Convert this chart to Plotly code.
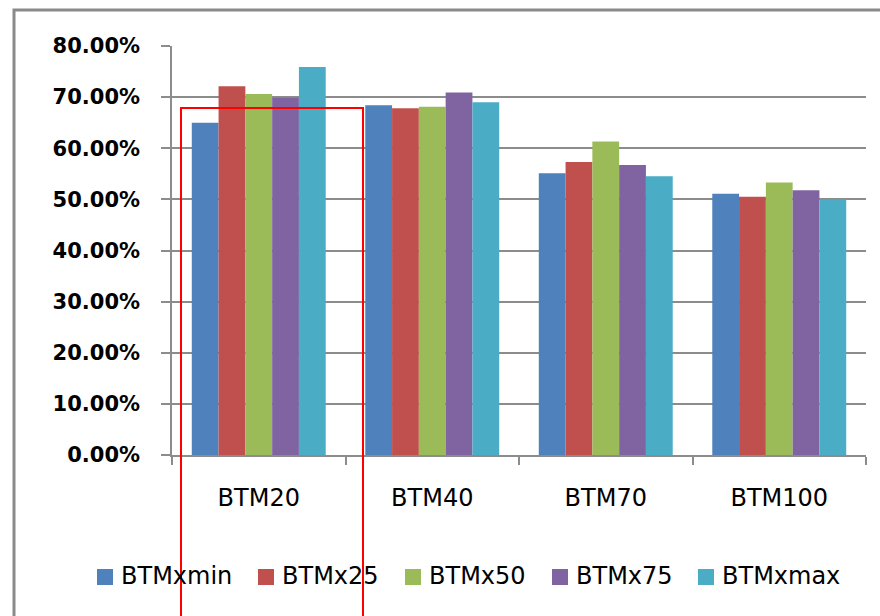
import plotly.graph_objects as go

categories = ["BTM20", "BTM40", "BTM70", "BTM100"]
series_names = ["BTMxmin", "BTMx25", "BTMx50", "BTMx75", "BTMxmax"]
btm_xmin = [0.650, 0.684, 0.551, 0.511]
btm_x25 = [0.7215, 0.678, 0.573, 0.505]
btm_x50 = [0.706, 0.681, 0.613, 0.533]
btm_x75 = [0.699, 0.709, 0.567, 0.518]
btm_xmax = [0.759, 0.690, 0.545, 0.500]
colors = ["#4F81BD", "#C0504D", "#9BBB59", "#8064A2", "#4BACC6"]
y_ticks = [0, 0.1, 0.2, 0.3, 0.4, 0.5, 0.6, 0.7, 0.8]

series_values = [btm_xmin, btm_x25, btm_x50, btm_x75, btm_xmax]

W, H = 880, 616
ML, MR, MT, MB = 172, 14, 46, 161
PW, PH = W - ML - MR, H - MT - MB


def px_x(px):
    """Pixel column -> paper x."""
    return (px - ML) / PW


def px_y(py):
    """Pixel row -> paper y."""
    return (H - MB - py) / PH


fig = go.Figure()
for name, vals, col in zip(series_names, series_values, colors):
    fig.add_trace(go.Bar(x=categories, y=vals, name=name,
                         marker=dict(color=col, line=dict(width=0))))

grid = "#8c8c8c"
fig.update_layout(
    width=W, height=H,
    margin=dict(l=ML, r=MR, t=MT, b=MB, autoexpand=False),
    paper_bgcolor="white", plot_bgcolor="white",
    barmode="group", bargap=0.228, bargroupgap=0,
    font=dict(family="DejaVu Sans", color="#000000"),
    showlegend=False,
    xaxis=dict(showline=True, linecolor=grid, linewidth=1.5, automargin=False,
               ticks="outside", tickson="boundaries", ticklen=8, tickcolor=grid, tickwidth=1.5,
               tickfont=dict(family="DejaVu Sans", size=24, color="#000000"),
               ticklabelstandoff=20, showgrid=False),
    yaxis=dict(range=[0, 0.8], tickvals=y_ticks, tickformat=".2%", automargin=False,
               showline=True, linecolor=grid, linewidth=1.5,
               ticks="outside", ticklen=9, tickcolor=grid, tickwidth=1.5,
               showgrid=True, gridcolor=grid, gridwidth=1.5, zeroline=False,
               tickfont=dict(family="DejaVu Sans", size=21, color="#000000", weight="bold"),
               ticklabelstandoff=17),
)

# legend drawn as swatches + labels in one row below the axis
legend_left = [97, 258, 405, 552, 698]
legend_mid = 577
for name, col, lx in zip(series_names, colors, legend_left):
    fig.add_shape(type="rect", xref="paper", yref="paper",
                  x0=px_x(lx), x1=px_x(lx + 16), y0=px_y(legend_mid + 8), y1=px_y(legend_mid - 8),
                  line=dict(width=0), fillcolor=col)
    fig.add_annotation(xref="paper", yref="paper", x=px_x(lx + 22), y=px_y(legend_mid - 1),
                       xanchor="left", yanchor="middle", showarrow=False, text=name,
                       font=dict(family="DejaVu Sans", size=24, color="#000000"))

# outer chart frame
fig.add_shape(type="rect", xref="paper", yref="paper",
              x0=px_x(14), x1=px_x(960), y0=px_y(700), y1=px_y(10),
              line=dict(color="#8a8a8a", width=3), fillcolor="rgba(0,0,0,0)", layer="below")
# red highlight box around the first group
fig.add_shape(type="rect", xref="paper", yref="paper",
              x0=px_x(181), x1=px_x(363), y0=px_y(680), y1=px_y(108),
              line=dict(color="#ff0000", width=2), fillcolor="rgba(0,0,0,0)", layer="above")

fig.write_html("out.html")
